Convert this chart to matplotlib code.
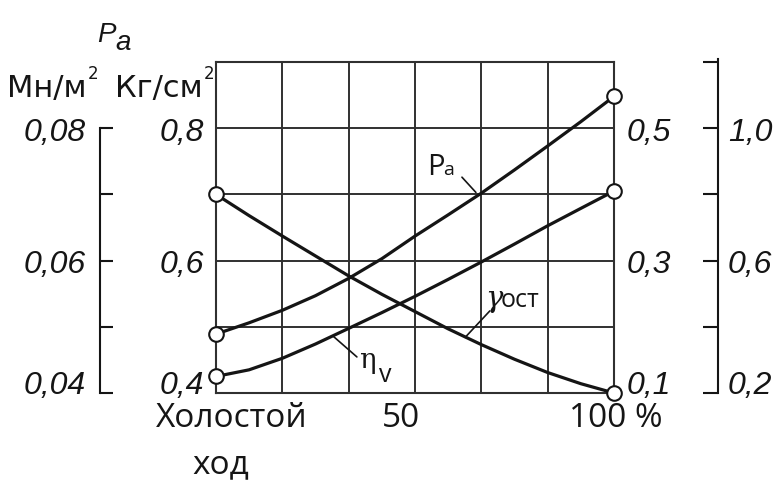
import numpy as np
import matplotlib.pyplot as plt
from matplotlib.transforms import offset_copy

# load, % (0 = idle)
load = [0, 8.3, 16.7, 25, 33.3, 41.7, 50, 58.3, 66.7, 75, 83.3, 91.7, 100]
# intake pressure, kg/cm2
p_a = [0.489, 0.506, 0.525, 0.547, 0.573, 0.603, 0.637, 0.669, 0.702, 0.737, 0.773, 0.810, 0.848]
# volumetric efficiency
eta_v = [0.25, 0.27, 0.305, 0.348, 0.395, 0.443, 0.492, 0.543, 0.596, 0.650, 0.705, 0.758, 0.81]
# residual gas coefficient
gamma_r = [0.40, 0.368, 0.337, 0.307, 0.277, 0.249, 0.223, 0.197, 0.173, 0.151, 0.131, 0.114, 0.10]

grid_x = [0, 16.7, 33.3, 50, 66.7, 83.3, 100]
kg_ticks = [0.4, 0.5, 0.6, 0.7, 0.8, 0.9]
kg_labels = ["0,4", "", "0,6", "", "0,8", ""]
mn_major, mn_minor = [0.04, 0.06, 0.08], [0.05, 0.07]
mn_labels = ["0,04", "0,06", "0,08"]
g_ticks, g_labels = [0.1, 0.3, 0.5], ["0,1", "0,3", "0,5"]
e_major, e_minor = [0.2, 0.6, 1.0], [0.4, 0.8, 1.2]
e_labels = ["0,2", "0,6", "1,0"]

INK = "#151515"
GRIDC = "#303030"
NUM = dict(family="Liberation Sans", style="italic", size=23, color=INK)
WORD = dict(family="Open Sans", size=24, color=INK)

fig = plt.figure(figsize=(7.84, 4.81), dpi=100)
W, H = 784, 481
ax = fig.add_axes([216 / W, 1 - 394 / H, 398 / W, 331 / H])
ax.set_xlim(0, 100)
ax.set_ylim(0.4, 0.9)
ax.set_xticks(grid_x)
ax.set_xticklabels([])
ax.set_yticks(kg_ticks)
ax.set_yticklabels(kg_labels, fontdict=NUM)
ax.tick_params(length=0, pad=9)
ax.grid(True, color=GRIDC, lw=1.4)
for s in ax.spines.values():
    s.set_color(GRIDC)
    s.set_linewidth(1.5)


def twin(lim):
    a = ax.twinx()
    a.set_ylim(*lim)
    for s in a.spines.values():
        s.set_visible(False)
    return a


def bracket(a, side, outward, bounds, major, minor, labels, tick_len, pad):
    a.yaxis.set_ticks_position(side)
    sp = a.spines[side]
    sp.set_visible(True)
    sp.set_position(("outward", outward))
    sp.set_bounds(*bounds)
    sp.set_color(INK)
    sp.set_linewidth(1.5)
    a.set_yticks(major)
    a.set_yticks(minor, minor=True)
    a.set_yticklabels(labels, fontdict=NUM)
    a.tick_params(which="both", direction="in", length=tick_len, width=1.5, color=INK, pad=pad)


# outer left scale, Mn/m2
ax_mn = twin((0.04, 0.09))
bracket(ax_mn, "left", 83.5, (0.04, 0.08), mn_major, mn_minor, mn_labels, 9.4, 10)

# inner right scale for gamma
ax_g = twin((0.1, 0.6))
ax_g.set_yticks(g_ticks)
ax_g.set_yticklabels(g_labels, fontdict=NUM)
ax_g.tick_params(length=0, pad=9)

# outer right scale for eta_v
ax_e = twin((0.2, 1.2))
bracket(ax_e, "right", 75, (0.2, 1.21), e_major, e_minor, e_labels, 10.8, 7)

# lowest labels sit on the baseline so they clear the load labels
for a in (ax, ax_mn, ax_g, ax_e):
    a.get_yticklabels()[0].set_verticalalignment("baseline")

line_kw = dict(color=INK, lw=2.3, marker="o", ms=10.5, mfc="white", mec=INK, mew=1.5,
               markevery=[0, -1], clip_on=False, zorder=3)
ax.plot(load, p_a, **line_kw)
ax_g.plot(load, gamma_r, **line_kw)
ax_e.plot(load, eta_v, **line_kw)

# leader lines from curve names
lead = dict(arrowstyle="-", color=INK, lw=1.2, shrinkA=0, shrinkB=0)
ax.annotate("", xy=(65.3, 0.703), xytext=(61.8, 0.726), arrowprops=lead)
ax_g.annotate("", xy=(62.6, 0.184), xytext=(68.8, 0.224), arrowprops=lead)
ax_e.annotate("", xy=(29.4, 0.372), xytext=(35.4, 0.309), arrowprops=lead)


def put(x, y, s, ha="left", **kw):
    return fig.text(x / W, 1 - y / H, s, ha=ha, va="baseline", **kw)


def squared(t):
    # small raised "2" right after a unit
    fig.add_artist(plt.Annotation("2", xy=(1, 1), xycoords=t, xytext=(1, -9),
                                  textcoords="offset pixels", ha="left", va="bottom",
                                  family="DejaVu Sans", size=12, color=INK))


# curve names
put(427, 175, "P", family="Open Sans", size=21, color=INK)
put(443, 175, "a", family="Open Sans", size=14, color=INK)
put(485, 307, "γ", family="DejaVu Serif", style="italic", size=21, color=INK)
put(501, 307, "ост", family="Open Sans", size=18, color=INK)
put(359, 368, "η", family="DejaVu Serif", size=20, color=INK)
put(379, 382, "v", family="Open Sans", size=18, color=INK)

# units above the left scales
put(97, 42, "P", family="Liberation Sans", style="italic", size=20, color=INK)
put(115, 50, "a", family="Liberation Sans", style="italic", size=20, color=INK)
squared(put(7, 97, "Мн/м", family="DejaVu Sans", size=22, color=INK))
squared(put(115, 97, "Кг/см", family="DejaVu Sans", size=22, color=INK))

# load axis labels
base = ax.get_xaxis_transform()
ax.text(0, 0, "Холостой", transform=offset_copy(base, fig, x=16, y=-33, units="dots"),
        ha="center", va="baseline", **WORD)
ax.text(0, 0, "ход", transform=offset_copy(base, fig, x=5, y=-79, units="dots"),
        ha="center", va="baseline", **WORD)
ax.text(50, 0, "50", transform=offset_copy(base, fig, x=-14, y=-33, units="dots"),
        ha="center", va="baseline", **WORD)
ax.text(100, 0, "100 %", transform=offset_copy(base, fig, x=2, y=-33, units="dots"),
        ha="center", va="baseline", **WORD)

fig.savefig("out.png", dpi=100)
